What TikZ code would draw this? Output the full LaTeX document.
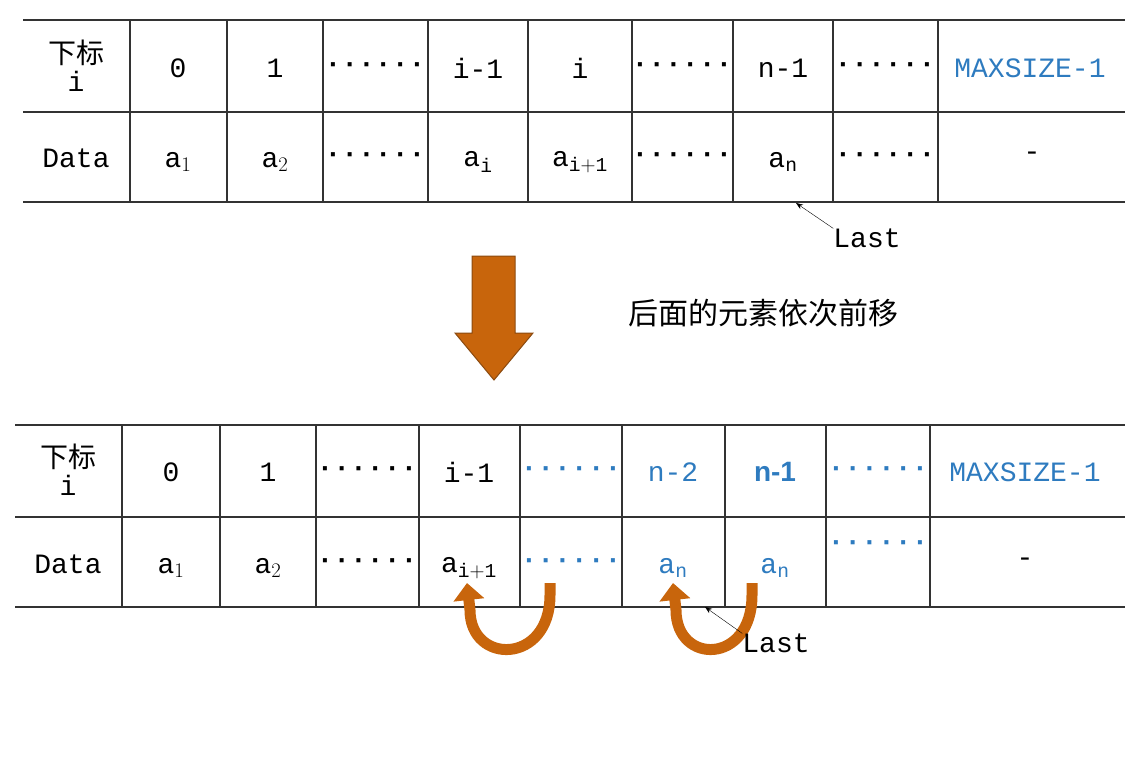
\documentclass[tikz,border=0pt]{standalone}
\usepackage{fontspec}
\setmainfont{Liberation Mono}
\newfontfamily\cjk{Noto Sans CJK SC}
\newfontfamily\sfb{Liberation Sans}
\usetikzlibrary{arrows.meta}
\definecolor{bl}{HTML}{2E7BBF}
\definecolor{org}{HTML}{C8650C}
\definecolor{orgd}{HTML}{8A4A10}
\begin{document}
\begin{tikzpicture}[x=1pt,y=-1pt,
  t/.style={font=\fontsize{28}{30}\selectfont,inner sep=0pt},
  g/.style={line width=1.2pt,black!80},
  uarr/.style={line width=11pt,org,-{Triangle[width=30pt,length=17pt]}},
  lastarr/.style={-{Stealth[length=7pt]},thin}]
\useasboundingbox (0,0) rectangle (1125,764);
% top table
\foreach \y in {20,112,202} \draw[g] (23,\y) -- (1125,\y);
\foreach \x in {130,227,323,428,528,632,733,833,938} \draw[g] (\x,20) -- (\x,202);
\node[t,align=center] (h1) at (76,66) {{\cjk 下标}\\[-2pt]i};
\node[t] (c0) at (178,68) {0};
\node[t] (c1) at (275,68) {1};
\node[t] (c2) at (375,68) {\textbf{······}};
\node[t] (c3) at (478,68) {i-1};
\node[t] (c4) at (580,68) {i};
\node[t] (c5) at (682,68) {\textbf{······}};
\node[t] (c6) at (783,68) {n-1};
\node[t] (c7) at (885,68) {\textbf{······}};
\node[t,text=bl] (c8) at (1030,68) {MAXSIZE-1};
\node[t] (d0) at (76,158) {Data};
\node[t] (d1) at (178,162) {a$_1$};
\node[t] (d2) at (275,162) {a$_2$};
\node[t] (d3) at (375,158) {\textbf{······}};
\node[t] (d4) at (478,162) {a$_{\rm i}$};
\node[t] (d5) at (580,162) {a$_{\rm i+1}$};
\node[t] (d6) at (682,158) {\textbf{······}};
\node[t] (d7) at (783,162) {a$_{\rm n}$};
\node[t] (d8) at (885,158) {\textbf{······}};
\node[t] (d9) at (1032,156) {-};
\node[t] (last1) at (867,238) {Last};
\draw[lastarr] (last1.north west) -- (796,203);
% big down arrow
\node[font=\cjk\fontsize{30}{32}\selectfont] (cap) at (763,313) {后面的元素依次前移};
\draw[fill=org,draw=orgd,line width=1pt] (472,256) -- (515,256) -- (515,333) -- (533,333) -- (494,380) -- (455,333) -- (472,333) -- cycle;
% bottom table
\foreach \y in {425,517,607} \draw[g] (15,\y) -- (1125,\y);
\foreach \x in {122,220,316,419,520,622,725,826,930} \draw[g] (\x,425) -- (\x,607);
\node[t,align=center] (h2) at (68,470) {{\cjk 下标}\\[-2pt]i};
\node[t] (e0) at (171,472) {0};
\node[t] (e1) at (268,472) {1};
\node[t] (e2) at (367,472) {\textbf{······}};
\node[t] (e3) at (469,472) {i-1};
\node[t,text=bl] (e4) at (571,472) {\textbf{······}};
\node[t,text=bl] (e5) at (673,472) {n-2};
\node[t,text=bl] (e6) at (775,472) {\sfb\bfseries n-1};
\node[t,text=bl] (e7) at (878,472) {\textbf{······}};
\node[t,text=bl] (e8) at (1025,472) {MAXSIZE-1};
\node[t] (f0) at (68,564) {Data};
\node[t] (f1) at (171,568) {a$_1$};
\node[t] (f2) at (268,568) {a$_2$};
\node[t] (f3) at (367,564) {\textbf{······}};
\node[t] (f4) at (469,568) {a$_{\rm i+1}$};
\node[t,text=bl] (f5) at (571,564) {\textbf{······}};
\node[t,text=bl] (f6) at (673,568) {a$_{\rm n}$};
\node[t,text=bl] (f7) at (775,568) {a$_{\rm n}$};
\node[t,text=bl] (f8) at (878,546) {\textbf{······}};
\node[t] (f9) at (1025,562) {-};
% u-turn arrows
\coordinate (u1s) at (550,583); \coordinate (u1e) at (467,583);
\coordinate (u2s) at (752,583); \coordinate (u2e) at (673,583);
\draw[uarr] (u1s) -- (550,595) .. controls (550,665) and (470,665) .. (470,610) -- (u1e);
\draw[uarr] (u2s) -- (752,595) .. controls (752,665) and (676,665) .. (676,610) -- (u2e);
\node[t] (last2) at (776,643) {Last};
\draw[lastarr] (last2.north west) -- (705,607);
\end{tikzpicture}
\end{document}
